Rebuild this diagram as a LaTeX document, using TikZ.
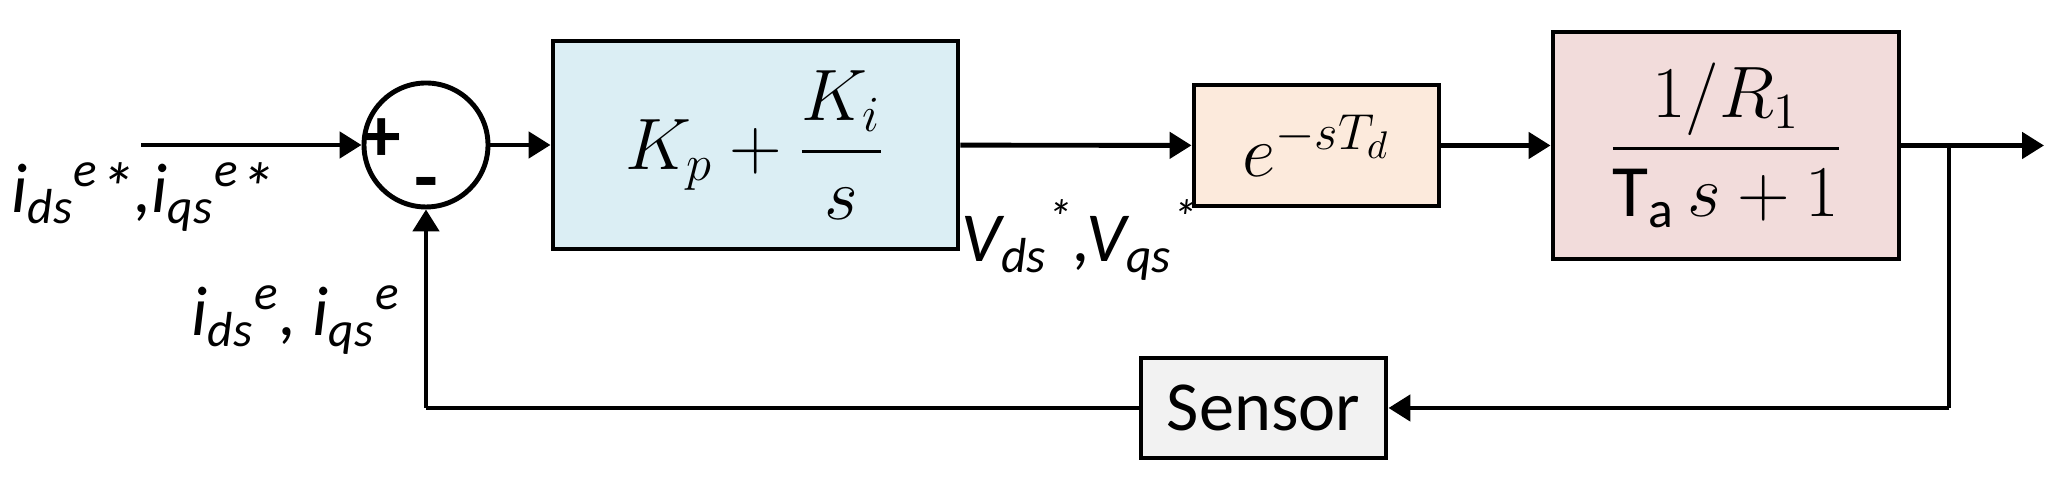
\documentclass[tikz,border=0pt]{standalone}
\usepackage{amsmath}
\usepackage{fontspec}
\setmainfont{Carlito}
\usetikzlibrary{arrows.meta}
\tikzstyle{block} = [rectangle, line width=1.4pt, draw=black, text centered, inner sep=0pt]
\tikzstyle{pi} = [block, minimum width=4.05cm, minimum height=2.08cm, fill={rgb,255:red,219;green,238;blue,244}]
\tikzstyle{delay} = [block, minimum width=2.45cm, minimum height=1.21cm, fill={rgb,255:red,252;green,234;blue,220}]
\tikzstyle{plant} = [block, minimum width=3.46cm, minimum height=2.27cm, fill={rgb,255:red,242;green,220;blue,219}]
\tikzstyle{sensor} = [block, minimum width=2.45cm, minimum height=1.0cm, fill={rgb,255:red,242;green,242;blue,242}]
\tikzstyle{sum} = [circle, line width=1.4pt, draw=black, minimum size=1.24cm, inner sep=0pt]
\tikzstyle{arrow} = [line width=1.4pt, -{Triangle[length=0.22cm,width=0.26cm]}]
\tikzstyle{wire} = [line width=1.4pt]

\begin{document}
\begin{tikzpicture}
        \useasboundingbox (0,0) rectangle (20.62,4.86);
        \coordinate (in) at (1.41,3.41);
        \node (sum) [sum] at (4.26,3.41) {};
        \node at (3.82,3.46) {\fontsize{22}{22}\selectfont\bfseries +};
        \node at (4.26,2.96) {\fontsize{22}{22}\selectfont\bfseries -};
        \node (pi) [pi] at (7.555,3.41) {\fontsize{21}{25}\selectfont $K_p+\dfrac{K_i}{s}$};
        \node (delay) [delay] at (13.165,3.405) {\fontsize{21}{25}\selectfont $e^{-sT_d}$};
        \node (plant) [plant] at (17.26,3.405) {\fontsize{21}{25}\selectfont $\dfrac{1/R_1}{\text{T}_\text{a}\,s+1}$};
        \node (sensor) [sensor] at (12.635,0.78) {\fontsize{20}{24}\selectfont Sensor};
        \coordinate (branch) at (19.49,3.405);
        \coordinate (out) at (20.44,3.405);
        \coordinate (corner1) at (19.49,0.78);
        \coordinate (corner2) at (4.26,0.78);
        \draw [arrow] (in) -- (sum);
        \draw [arrow] (sum) -- (pi);
        \draw [arrow] (pi) -- (delay);
        \draw [arrow] (delay) -- (plant);
        \draw [arrow] (plant) -- (out);
        \draw [wire] (branch) -- (corner1);
        \draw [arrow] (corner1) -- (sensor);
        \draw [wire] (sensor) -- (corner2);
        \draw [arrow] (corner2) -- (sum);
        \node at (1.43,2.89) {\fontsize{20}{24}\selectfont\itshape i\textsubscript{ds}\textsuperscript{e}*,i\textsubscript{qs}\textsuperscript{e}*};
        \node at (2.96,1.66) {\fontsize{20}{24}\selectfont\itshape i\textsubscript{ds}\textsuperscript{e}, i\textsubscript{qs}\textsuperscript{e}};
        \node at (10.8,2.46) {\fontsize{20}{24}\selectfont\itshape V\textsubscript{ds}\textsuperscript{*},V\textsubscript{qs}\textsuperscript{*}};
      \end{tikzpicture}
\end{document}
